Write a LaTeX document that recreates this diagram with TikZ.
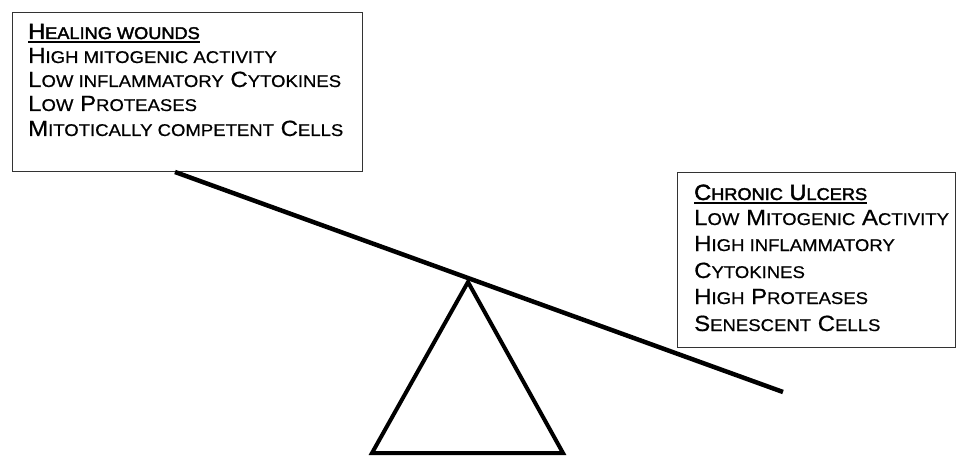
\documentclass[tikz,border=0pt]{standalone}
\usepackage{fontspec}
\setmainfont[FakeStretch=1.09,FakeBold=0.6]{Liberation Sans}
\newfontfamily\headfont[FakeStretch=1.07,FakeBold=2.2]{Liberation Sans}
\newcommand\smc[1]{{\fontsize{17}{17}\selectfont #1}}
\begin{document}
\begin{tikzpicture}[x=1pt,y=-1pt,
  boxstyle/.style={draw=black!80, line width=1.3pt, anchor=north west, inner sep=0pt},
  txt/.style={anchor=base west, inner sep=0pt, font=\fontsize{22}{22}\selectfont},
  head/.style={txt, font=\headfont\fontsize{22}{22}\selectfont},
  heavy/.style={line width=4.5pt, line cap=butt, line join=miter}]
\useasboundingbox (0,0) rectangle (973,457);
% boxes
\node[boxstyle, minimum width=350pt, minimum height=159pt] (hbox) at (12,12) {};
\node[boxstyle, minimum width=278pt, minimum height=175pt] (cbox) at (677,172) {};
% left text
\node[head] (h0) at (28,39) {H\smc{EALING WOUNDS}};
\node[txt] (h1) at (28,63) {H\smc{IGH MITOGENIC ACTIVITY}};
\node[txt] (h2) at (28,87) {L\smc{OW INFLAMMATORY} C\smc{YTOKINES}};
\node[txt] (h3) at (28,111) {L\smc{OW} P\smc{ROTEASES}};
\node[txt] (h4) at (28,136) {M\smc{ITOTICALLY COMPETENT} C\smc{ELLS}};
\draw[line width=1.6pt] ([yshift=-3pt]h0.base west) -- ([yshift=-3pt]h0.base east);
% right text
\node[head] (c0) at (694,200) {C\smc{HRONIC} U\smc{LCERS}};
\node[txt] (c1) at (694,225) {L\smc{OW} M\smc{ITOGENIC} A\smc{CTIVITY}};
\node[txt] (c2) at (694,251) {H\smc{IGH INFLAMMATORY}};
\node[txt] (c3) at (694,278) {C\smc{YTOKINES}};
\node[txt] (c4) at (694,304) {H\smc{IGH} P\smc{ROTEASES}};
\node[txt] (c5) at (694,331) {S\smc{ENESCENT} C\smc{ELLS}};
\draw[line width=1.6pt] ([yshift=-3pt]c0.base west) -- ([yshift=-3pt]c0.base east);
% seesaw
\coordinate (bL) at (175,172);
\coordinate (bR) at (783,392);
\coordinate (apex) at (468,282);
\coordinate (baseL) at (372,453);
\coordinate (baseR) at (563,453);
\draw[heavy] (bL) -- (bR);
\draw[line width=4pt, line join=miter] (apex) -- (baseR) -- (baseL) -- cycle;
\end{tikzpicture}
\end{document}
